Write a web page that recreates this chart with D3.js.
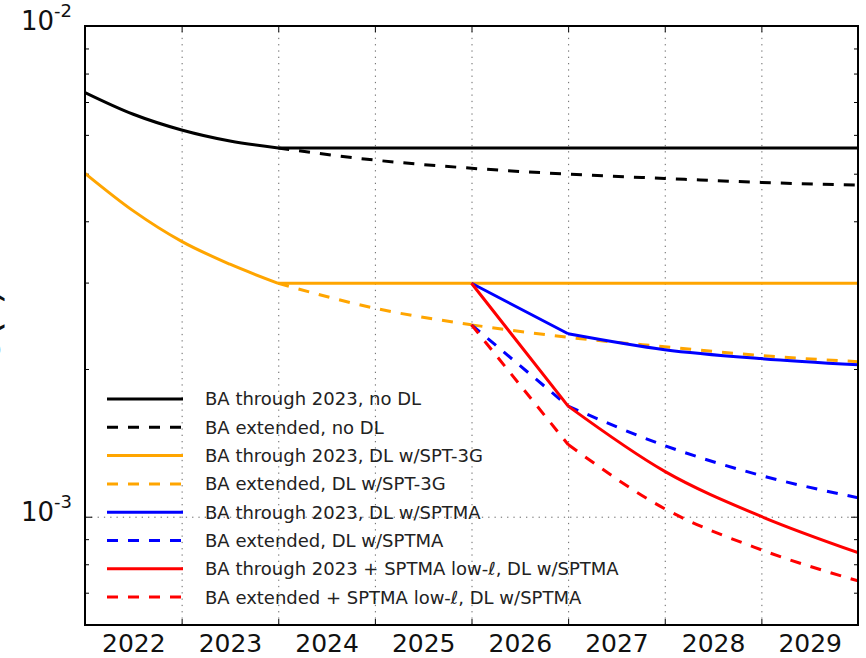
<!DOCTYPE html>
<html><head><meta charset="utf-8">
<script src="https://cdn.jsdelivr.net/npm/d3@7"></script>
<style>
body{margin:0;background:#fff}
svg{display:block;font-family:"DejaVu Sans",sans-serif}
</style>
</head><body>
<svg id="chart" width="866" height="658"></svg>
<script>
// ---------- data ----------
const xEarly = [2022, 2022.5, 2023, 2023.5, 2024, 2030];
const xExt = [2024, 2025, 2026, 2027, 2028, 2029, 2030];
const xLate = [2026, 2027, 2028, 2029, 2030];

const blackSolid = [7.32e-3, 6.61e-3, 6.14e-3, 5.83e-3, 5.64e-3, 5.64e-3];
const blackDashed = [5.64e-3, 5.33e-3, 5.13e-3, 4.99e-3, 4.89e-3, 4.80e-3, 4.74e-3];
const orangeSolid = [5.01e-3, 4.20e-3, 3.64e-3, 3.27e-3, 2.99e-3, 2.99e-3];
const orangeDashed = [2.99e-3, 2.66e-3, 2.46e-3, 2.32e-3, 2.22e-3, 2.13e-3, 2.07e-3];
const blueSolid = [2.99e-3, 2.36e-3, 2.19e-3, 2.10e-3, 2.04e-3];
const blueDashed = [2.46e-3, 1.68e-3, 1.396e-3, 1.213e-3, 1.093e-3];
const redSolid = [2.99e-3, 1.68e-3, 1.237e-3, 1.001e-3, 8.45e-4];
const redDashed = [2.46e-3, 1.403e-3, 1.038e-3, 8.56e-4, 7.40e-4];

const seriesLabels = [
  "BA through 2023, no DL",
  "BA extended, no DL",
  "BA through 2023, DL w/SPT-3G",
  "BA extended, DL w/SPT-3G",
  "BA through 2023, DL w/SPTMA",
  "BA extended, DL w/SPTMA",
  "BA through 2023 + SPTMA low-\u2113, DL w/SPTMA",
  "BA extended + SPTMA low-\u2113, DL w/SPTMA"
];
const seriesColors = ["#000000","#000000","#FFA500","#FFA500","#0000FF","#0000FF","#FF0000","#FF0000"];
const seriesDashed = [false,true,false,true,false,true,false,true];
const seriesX = [xEarly, xExt, xEarly, xExt, xLate, xLate, xLate, xLate];
const seriesY = [blackSolid, blackDashed, orangeSolid, orangeDashed, blueSolid, blueDashed, redSolid, redDashed];
// years where a series has a sharp corner
const seriesKinks = [[2024],[],[2024],[2026],[2027],[2027],[2027],[2027]];

const xGridYears = [2023, 2024, 2025, 2026, 2027, 2028, 2029];
const xLabelPos = [2022.5, 2023.5, 2024.5, 2025.5, 2026.5, 2027.5, 2028.5, 2029.5];
const yMajor = [1e-3, 1e-2];
const yMajorExp = ["-3", "-2"];
const yMinor = [7e-4, 8e-4, 9e-4, 2e-3, 3e-3, 4e-3, 5e-3, 6e-3, 7e-3, 8e-3, 9e-3];
const yLabel = "\u03C3(r)";

// ---------- layout ----------
const L = 85, R = 858, T = 26, B = 625;
const svg = d3.select("#chart");
const x = d3.scaleLinear().domain([2022, 2030]).range([L, R]);
const y = d3.scaleLog().domain([6.016e-4, 1e-2]).range([B, T]);

svg.append("defs").append("clipPath").attr("id","clip")
  .append("rect").attr("x", L).attr("y", T).attr("width", R - L).attr("height", B - T);

// grid
const gridV = svg.append("g").attr("transform", `translate(0,${B})`)
  .call(d3.axisBottom(x).tickValues(xGridYears).tickSize(-(B - T)).tickFormat(""));
gridV.select(".domain").remove();
gridV.selectAll("line").attr("stroke", "#666").attr("stroke-width", 1).attr("stroke-dasharray", "1.3,5");
const gridH = svg.append("g").attr("transform", `translate(${L},0)`)
  .call(d3.axisLeft(y).tickValues([1e-3]).tickSize(-(R - L)).tickFormat(""));
gridH.select(".domain").remove();
gridH.selectAll("line").attr("stroke", "#666").attr("stroke-width", 1).attr("stroke-dasharray", "1.3,5");

// ticks (inside)
function tickStyle(g){ g.select(".domain").remove(); g.selectAll("line").attr("stroke","#000").attr("stroke-width",1); }
svg.append("g").attr("transform", `translate(0,${B})`)
  .call(d3.axisBottom(x).tickValues(xGridYears).tickSize(-6).tickFormat("")).call(tickStyle);
svg.append("g").attr("transform", `translate(0,${T})`)
  .call(d3.axisTop(x).tickValues(xGridYears).tickSize(-6).tickFormat("")).call(tickStyle);
svg.append("g").attr("transform", `translate(${L},0)`)
  .call(d3.axisLeft(y).tickValues(yMinor).tickSize(-4).tickFormat("")).call(tickStyle);
svg.append("g").attr("transform", `translate(${R},0)`)
  .call(d3.axisRight(y).tickValues(yMinor).tickSize(-4).tickFormat("")).call(tickStyle);
svg.append("g").attr("transform", `translate(${L},0)`)
  .call(d3.axisLeft(y).tickValues(yMajor).tickSize(-7).tickFormat("")).call(tickStyle);
svg.append("g").attr("transform", `translate(${R},0)`)
  .call(d3.axisRight(y).tickValues(yMajor).tickSize(-7).tickFormat("")).call(tickStyle);

// data lines: smooth (monotone) between corners, sharp at corners
const line = d3.line().x(d => x(d[0])).y(d => y(d[1])).curve(d3.curveMonotoneX);
const plot = svg.append("g").attr("clip-path", "url(#clip)");
seriesY.forEach((vals, i) => {
  const pts = vals.map((v, j) => [seriesX[i][j], v]);
  const pieces = [];
  let cur = [];
  pts.forEach(p => {
    cur.push(p);
    if (seriesKinks[i].includes(p[0])) { pieces.push(cur); cur = [p]; }
  });
  if (cur.length > 1) pieces.push(cur);
  const d = pieces.map(pc => line(pc)).join("");
  plot.append("path").attr("d", d)
    .attr("fill", "none").attr("stroke", seriesColors[i]).attr("stroke-width", 3)
    .attr("stroke-linejoin", "round")
    .attr("stroke-dasharray", seriesDashed[i] ? "11,10" : null);
});

// frame
svg.append("rect").attr("x", L).attr("y", T).attr("width", R - L).attr("height", B - T)
  .attr("fill", "none").attr("stroke", "#000").attr("stroke-width", 2);

// x tick labels
const xl = svg.append("g").attr("transform", `translate(0,${B})`)
  .call(d3.axisBottom(x).tickValues(xLabelPos).tickSize(0).tickPadding(9).tickFormat(d => String(Math.floor(d))));
xl.select(".domain").remove();
xl.selectAll("text").attr("font-size", 25).attr("fill", "#111").attr("font-family", "DejaVu Sans");

// y tick labels
const yl = svg.append("g").attr("transform", `translate(${L},0)`)
  .call(d3.axisLeft(y).tickValues(yMajor).tickSize(0).tickPadding(13).tickFormat(""));
yl.select(".domain").remove();
yl.selectAll("text").each(function(d, i){
  const t = d3.select(this).attr("dy", "0.38em").attr("fill", "#111").attr("font-family", "DejaVu Sans");
  t.append("tspan").attr("font-size", 26).text("10");
  t.append("tspan").attr("font-size", 18).attr("dy", -13.5).text(yMajorExp[i]);
});

// y label (mostly off-canvas, as in reference)
svg.append("text").attr("transform", `translate(-1,${(T + B) / 2}) rotate(-90)`)
  .attr("text-anchor", "middle").attr("font-size", 40).attr("fill", "#111").text(yLabel);

// legend
const lg = svg.append("g");
seriesLabels.forEach((lab, i) => {
  const cy = 399 + i * 28.3;
  lg.append("line").attr("x1", 107).attr("x2", 183).attr("y1", cy).attr("y2", cy)
    .attr("stroke", seriesColors[i]).attr("stroke-width", 3)
    .attr("stroke-dasharray", seriesDashed[i] ? "11,10" : null);
  lg.append("text").attr("x", 205).attr("y", cy).attr("dy", "0.36em")
    .attr("font-size", 18).attr("fill", "#222").text(lab);
});
</script>
</body></html>
